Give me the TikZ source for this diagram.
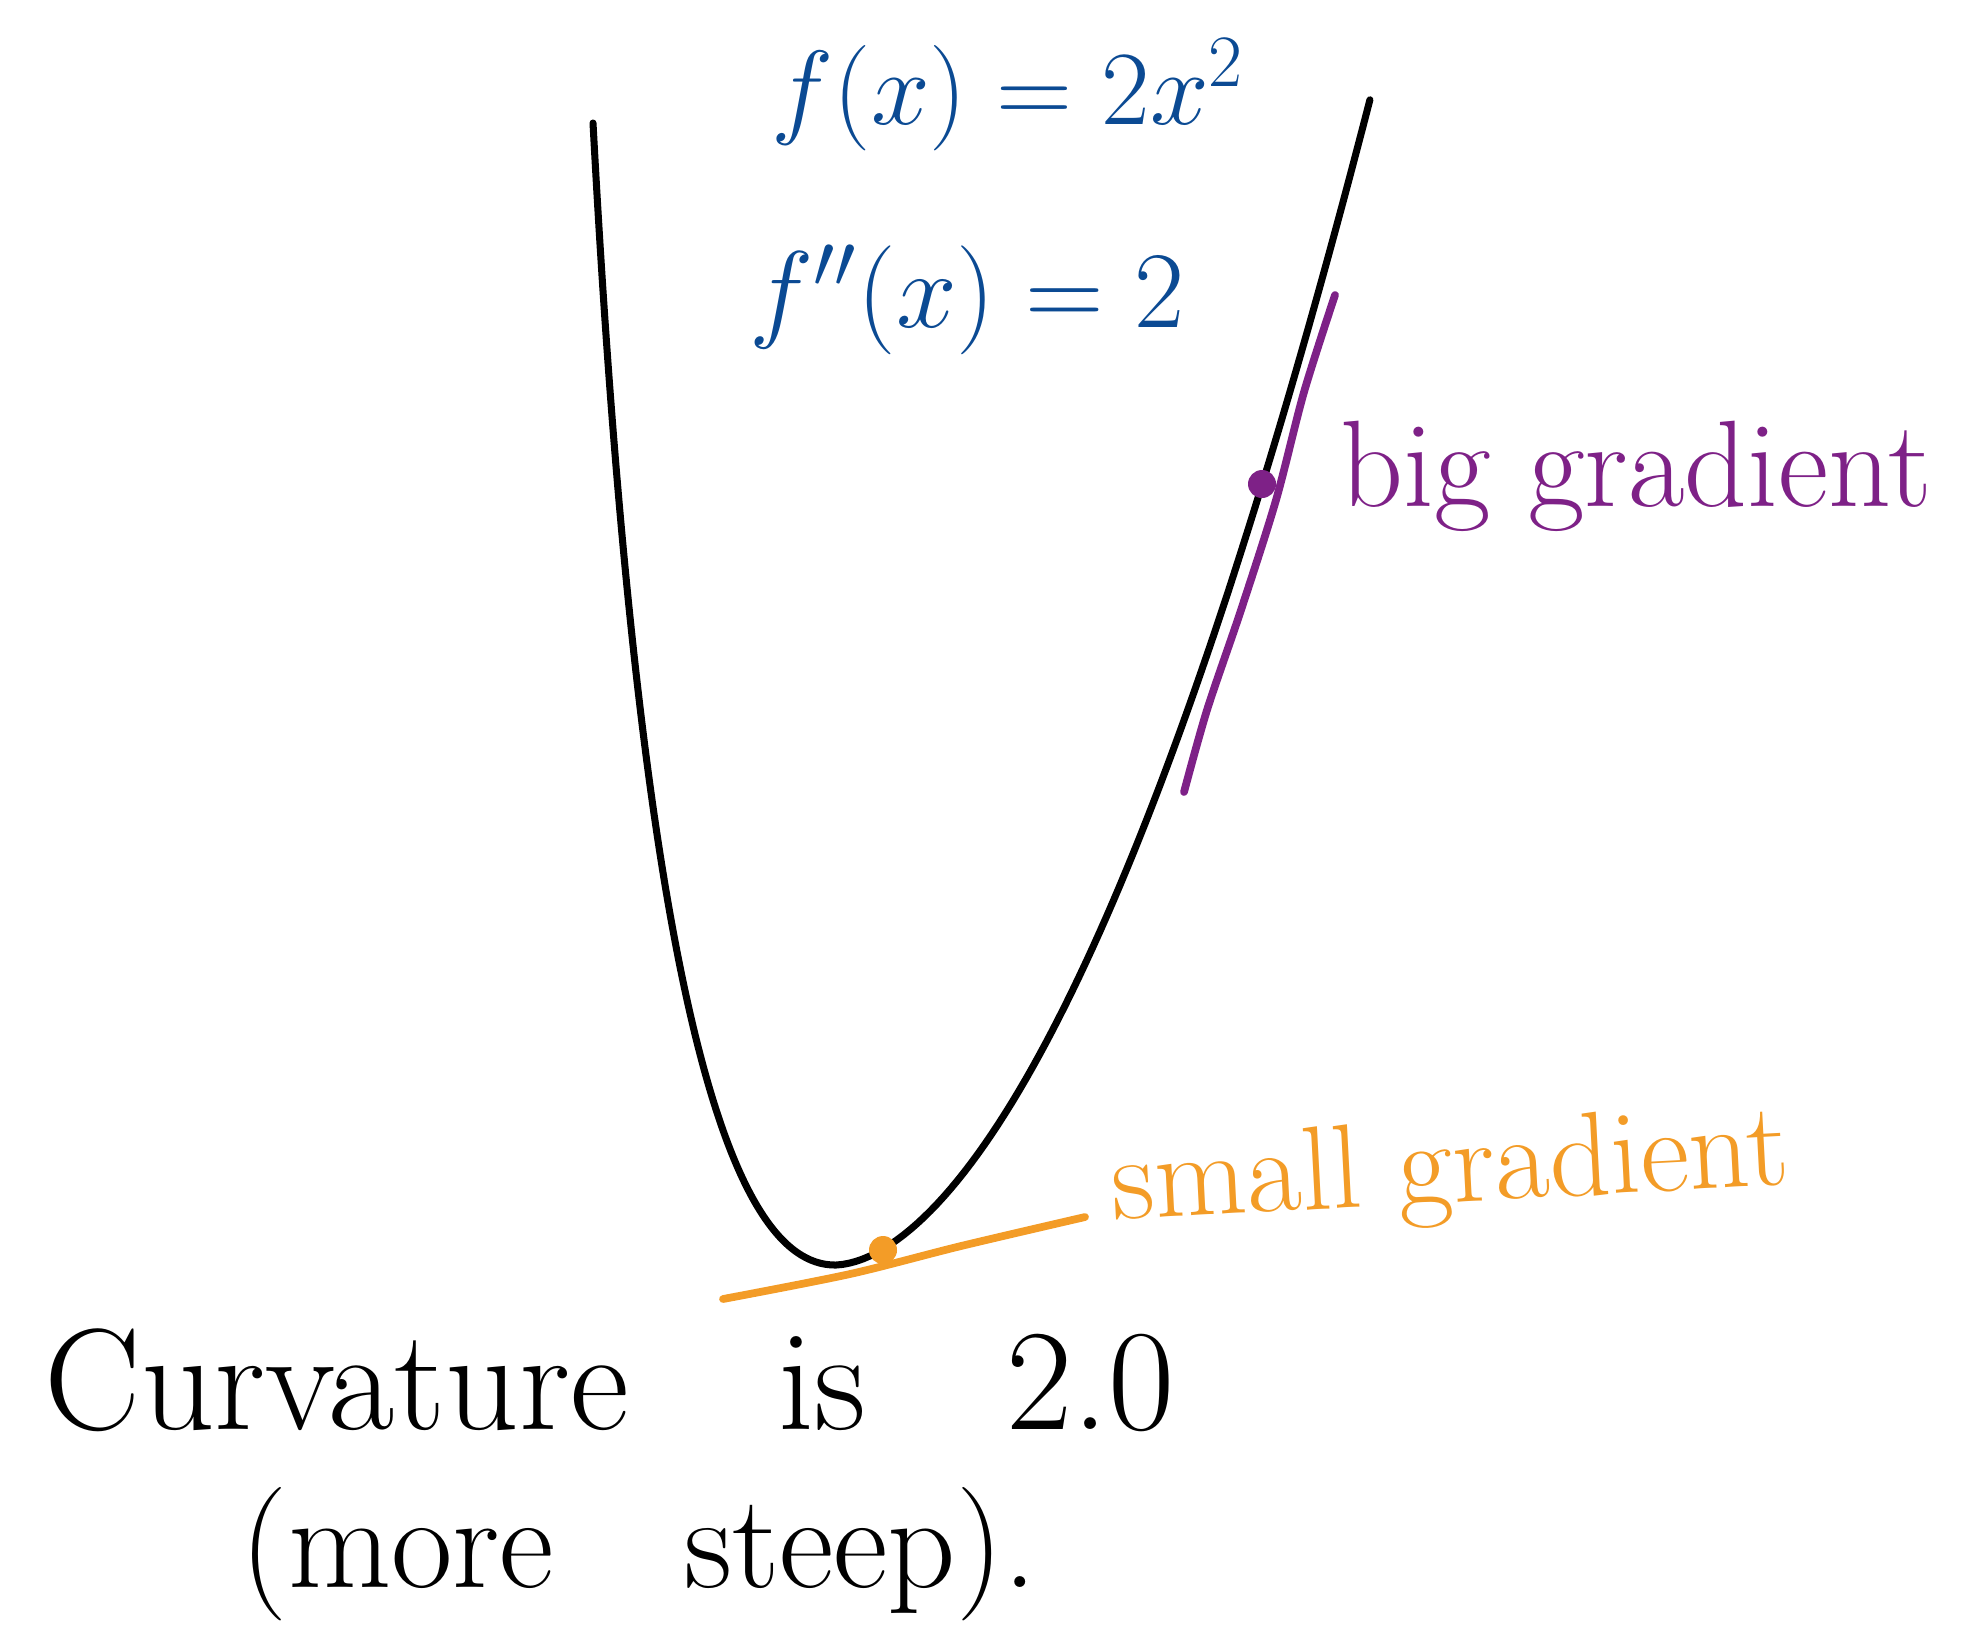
\RequirePackage{fix-cm}
\documentclass[tikz,border=0pt]{standalone}
\usepackage{amsmath,amssymb}
\usepackage{tikz}
\definecolor{penblue}{HTML}{0B4A93}
\definecolor{penpurple}{HTML}{7E2187}
\definecolor{penorange}{HTML}{F39C27}
\tikzset{pen/.style={line width=2.2pt,line cap=round,line join=round}}
\begin{document}
\begin{tikzpicture}[x=0.01cm,y=-0.01cm,every node/.style={inner sep=0pt}]
\useasboundingbox (0,0) rectangle (1983,1645);
\coordinate (lt) at (593,123);\coordinate (mn) at (835,1265);
\coordinate (pt) at (1262,484);\coordinate (qt) at (883,1250);
\draw[pen,line width=2pt] (lt) .. controls (640,1000) and (730,1265) .. (mn)
  -- plot[domain=0.01:5.35,samples=80] ({835+100*\x},{1265-58.9*\x^1.78});
% tangent lines
\draw[pen,penorange] plot[smooth] coordinates {(723,1299) (850,1274) (961,1246) (1085,1217)};
\draw[pen,penpurple] plot[smooth] coordinates {(1335,295) (1304,392) (1276,500) (1241,610) (1207,710) (1184,792)};
\fill[penorange] (qt) circle(0.14cm);\fill[penpurple] (pt) circle(0.14cm);
\node[penblue,font=\fontsize{30}{36}\selectfont] (fx) at (1008,95) {$f(x)=2x^2$};
\node[penblue,font=\fontsize{31}{36}\selectfont] (fpp) at (967,300) {$f''(x)=2$};
\node[penpurple,anchor=base west,font=\fontsize{35}{40}\selectfont] (big) at (1340,506) {big gradient};
\node[penorange,anchor=base west,rotate=3,font=\fontsize{34}{40}\selectfont] (small) at (1113,1220) {small gradient};
\node[anchor=base west,font=\fontsize{41}{48}\selectfont] (curv) at (44,1429) {Curvature\hspace{1.5cm}is\hspace{1.4cm}2.0};
\node[anchor=base west,font=\fontsize{38}{44}\selectfont] (steep) at (240,1587) {(more\hspace{1.3cm}steep).};
\end{tikzpicture}
\end{document}
